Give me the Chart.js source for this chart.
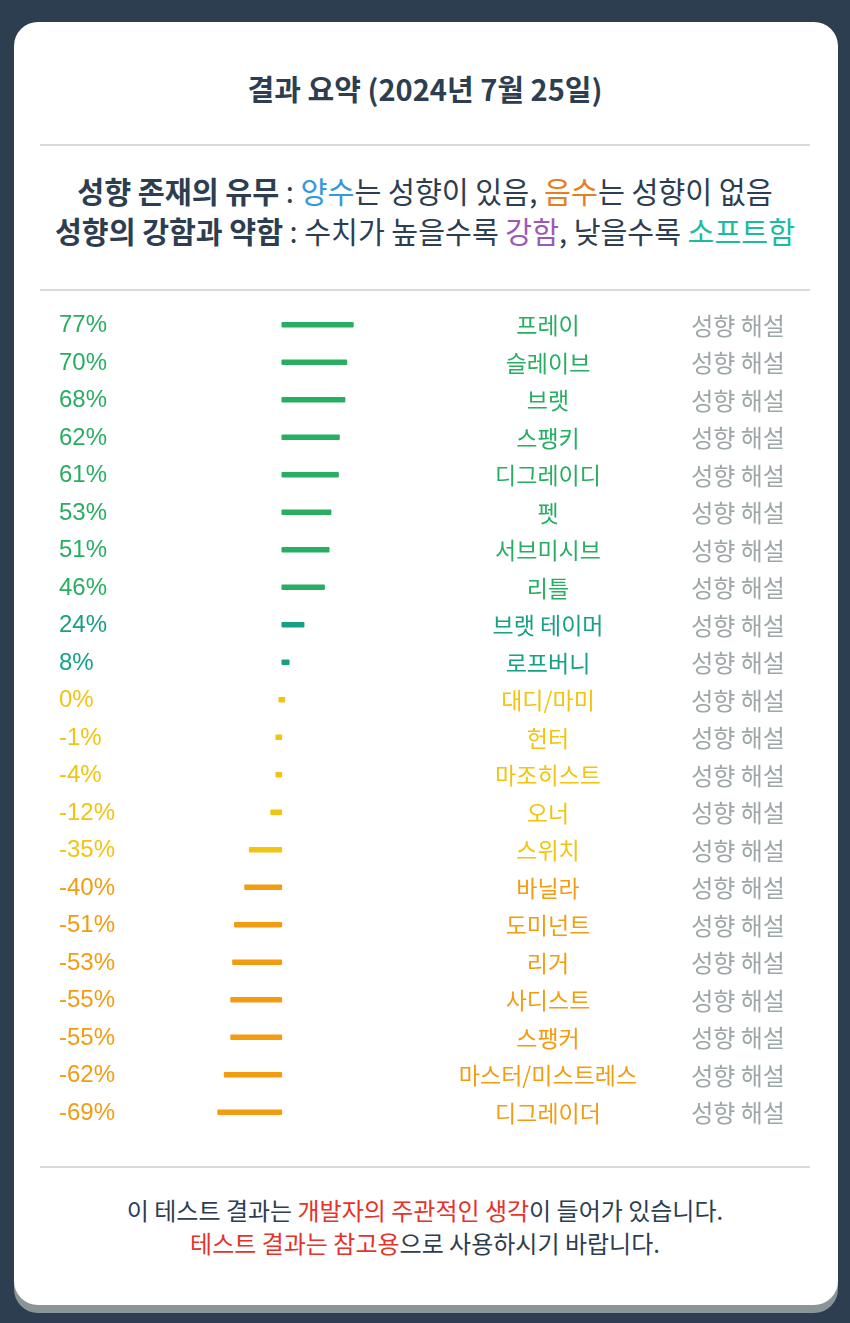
<!DOCTYPE html>
<html><head><meta charset="utf-8">
<script src="https://cdn.jsdelivr.net/npm/chart.js@4.4.1/dist/chart.umd.min.js"></script>
<style>
html,body{margin:0;padding:0;}
body{width:850px;height:1323px;background:#2c3e50;position:relative;overflow:hidden;font-family:"Noto Sans CJK KR","Noto Sans",sans-serif;}
#card{position:absolute;left:14px;top:22px;width:824px;height:1283px;background:#fff;border-radius:24px;box-shadow:0 8px 0 #8a9598;}
.t{position:absolute;left:0;width:850px;text-align:center;white-space:nowrap;color:#2c3e50;}
.hr{position:absolute;left:40px;width:770px;height:2px;background:#d9d9d9;}
b{font-weight:700;}
#wrap{position:absolute;left:0;top:306px;width:850px;height:825px;}
</style></head>
<body>
<div id="card"></div>
<div class="t" style="top:66px;line-height:44px;font-size:29px;font-weight:700;">결과 요약 (2024년 7월 25일)</div>
<div class="hr" style="top:144px;"></div>
<div class="t" style="top:169px;line-height:42px;font-size:29.3px;"><b>성향 존재의 유무</b> : <span style="color:#3498db">양수</span>는 성향이 있음, <span style="color:#e67e22">음수</span>는 성향이 없음</div>
<div class="t" style="top:209px;line-height:42px;font-size:29.2px;"><b>성향의 강함과 약함</b> : 수치가 높을수록 <span style="color:#9b59b6">강함</span>, 낮을수록 <span style="color:#1abc9c">소프트함</span></div>
<div class="hr" style="top:289px;"></div>
<div id="wrap"><canvas id="c" width="850" height="825"></canvas></div>
<div class="hr" style="top:1166px;"></div>
<div class="t" style="top:1193px;line-height:34px;font-size:24px;">이 테스트 결과는 <span style="color:#e5322b">개발자의 주관적인 생각</span>이 들어가 있습니다.</div>
<div class="t" style="top:1226px;line-height:34px;font-size:24px;"><span style="color:#e5322b">테스트 결과는 참고용</span>으로 사용하시기 바랍니다.</div>
<script>
const categories = ["프레이","슬레이브","브랫","스팽키","디그레이디","펫","서브미시브","리틀","브랫 테이머","로프버니","대디/마미","헌터","마조히스트","오너","스위치","바닐라","도미넌트","리거","사디스트","스팽커","마스터/미스트레스","디그레이더"];
const values = [77,70,68,62,61,53,51,46,24,8,0,-1,-4,-12,-35,-40,-51,-53,-55,-55,-62,-69];
const linkLabel = "성향 해설";

function colorFor(v){
  if (v >= 40) return "#27ae60";
  if (v > 0) return "#16a085";
  if (v >= -35) return "#f1c40f";
  return "#f39c12";
}
const colors = values.map(colorFor);

const textPlugin = {
  id: "rowText",
  afterDatasetsDraw(chart){
    const ctx = chart.ctx, ys = chart.scales.y;
    ctx.save();
    ctx.textBaseline = "middle";
    categories.forEach((name, i) => {
      const y = ys.getPixelForValue(i);
      ctx.fillStyle = colors[i];
      ctx.textAlign = "left";
      ctx.font = '24px "Liberation Sans", Arial, sans-serif';
      ctx.fillText(values[i] + "%", 59, y + 1);
      ctx.textAlign = "center";
      ctx.font = '23px "Noto Sans CJK KR", sans-serif';
      ctx.fillText(name, 548, y + 1);
      ctx.fillStyle = "#9ea7a8";
      ctx.font = '24px "Noto Sans CJK KR", sans-serif';
      ctx.fillText(linkLabel, 738, y + 1);
    });
    ctx.restore();
  }
};

new Chart(document.getElementById("c"), {
  type: "bar",
  data: { labels: categories, datasets: [{ data: values, backgroundColor: colors, barThickness: 5, minBarLength: 6, borderRadius: 1, borderSkipped: false }] },
  options: {
    indexAxis: "y",
    responsive: false,
    animation: false,
    layout: { padding: 0 },
    plugins: { legend: { display: false }, tooltip: { enabled: false } },
    scales: {
      x: { display: false, min: -303, max: 611 },
      y: { display: false }
    }
  },
  plugins: [textPlugin]
});
</script>
</body></html>
